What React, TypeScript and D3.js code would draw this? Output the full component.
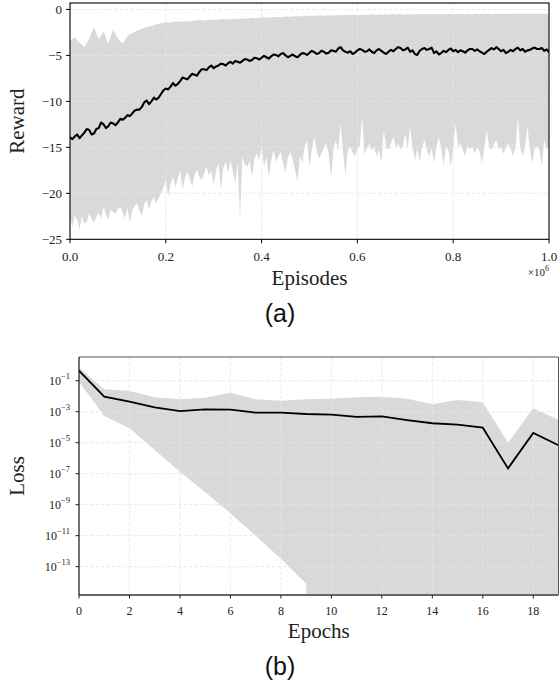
import React from 'react';
import * as d3 from 'd3';

const W = 560;
const H = 685;

// ---------- (a) Reward vs Episodes ----------
const episodeTicks = [0, 0.2, 0.4, 0.6, 0.8, 1.0];
const episodeTickLabels = ['0.0', '0.2', '0.4', '0.6', '0.8', '1.0'];
const rewardTicks = [0, -5, -10, -15, -20, -25];

// mean reward, 201 evenly spaced samples over [0, 1e6]
const rewardMean = [
  -13.9, -14.1, -13.8, -13.6, -14.0, -13.7, -13.4, -13.0, -13.1, -13.6,
  -13.5, -13.0, -12.9, -12.3, -12.5, -12.9, -12.7, -12.3, -12.4, -12.6,
  -12.3, -11.9, -12.0, -11.8, -11.5, -11.6, -11.3, -11.0, -10.9, -10.9,
  -10.6, -10.1, -9.9, -10.3, -10.0, -9.6, -9.8, -9.6, -9.2, -8.8,
  -8.6, -8.7, -8.4, -8.0, -8.3, -8.1, -7.8, -7.4, -7.5, -7.6,
  -7.3, -7.0, -7.1, -7.2, -6.8, -6.5, -6.5, -6.6, -6.3, -6.1,
  -6.4, -6.2, -6.1, -5.9, -5.95, -6.1, -5.85, -5.7, -5.9, -5.6,
  -5.7, -5.8, -5.6, -5.4, -5.45, -5.6, -5.5, -5.25, -5.3, -5.45,
  -5.25, -5.05, -5.2, -5.35, -5.1, -4.9, -4.95, -5.1, -4.85, -4.75,
  -5.0, -5.2, -5.05, -4.9, -5.1, -5.2, -4.95, -4.75, -4.8, -4.95,
  -4.7, -4.5, -4.65, -4.85, -4.75, -4.5, -4.6, -4.8, -4.7, -4.45,
  -4.5, -4.6, -4.25, -4.1, -4.45, -4.6, -4.7, -4.55, -4.85, -4.7,
  -4.45, -4.3, -4.4, -4.6, -4.55, -4.35, -4.6, -4.75, -4.45, -4.3,
  -4.5, -4.7, -4.85, -4.6, -4.4, -4.55, -4.3, -4.1, -4.2, -4.45,
  -4.35, -4.15, -4.6, -4.45, -4.85, -4.95, -4.5, -4.3, -4.2, -4.4,
  -4.3, -4.15, -4.75, -4.55, -4.9, -4.75, -4.5, -4.65, -4.4, -4.25,
  -4.55, -4.4, -4.65, -4.45, -4.55, -4.7, -4.45, -4.3, -4.3, -4.5,
  -4.35, -4.55, -4.7, -4.85, -4.6, -4.4, -4.2, -4.35, -4.1, -4.3,
  -4.55, -4.4, -4.75, -4.6, -4.4, -4.55, -4.3, -4.15, -4.45, -4.3,
  -4.6, -4.45, -4.4, -4.25, -4.15, -4.3, -4.3, -4.2, -4.5, -4.35,
  -4.65,
];

// upper edge of band, 101 samples
const rewardUpper = [
  -3.4, -3.05, -3.6, -4.1, -3.2, -1.9, -3.3, -2.4, -3.7, -2.2,
  -3.2, -3.7, -2.9, -2.6, -2.3, -2.1, -1.9, -1.8, -1.6, -1.5,
  -1.4, -1.45, -1.3, -1.35, -1.25, -1.3, -1.2, -1.15, -1.2, -1.1,
  -1.15, -1.1, -1.05, -1.1, -1.0, -1.05, -0.95, -1.0, -0.9, -0.95,
  -0.87, -0.9, -0.85, -0.82, -0.85, -0.78, -0.8, -0.73, -0.76, -0.7,
  -0.72, -0.68, -0.66, -0.7, -0.62, -0.65, -0.6, -0.63, -0.6, -0.58,
  -0.62, -0.57, -0.6, -0.56, -0.58, -0.55, -0.57, -0.53, -0.56, -0.52,
  -0.55, -0.51, -0.54, -0.5, -0.53, -0.5, -0.52, -0.49, -0.52, -0.5,
  -0.51, -0.48, -0.5, -0.49, -0.51, -0.48, -0.5, -0.47, -0.5, -0.48,
  -0.49, -0.47, -0.49, -0.46, -0.48, -0.47, -0.48, -0.46, -0.47, -0.46,
  -0.47,
];

// lower edge of band, 201 samples
const rewardLower = [
  -22.7, -23.6, -22.4, -22.9, -23.9, -22.5, -23.3, -23.1, -22.2, -22.8,
  -23.2, -22.5, -22.2, -22.7, -21.5, -22.3, -22.9, -21.8, -22.0, -22.2,
  -21.7, -21.5, -22.1, -22.7, -21.6, -23.2, -21.8, -21.4, -21.1, -21.9,
  -22.5, -21.2, -20.7, -21.8, -20.9, -20.4, -21.1, -20.5, -20.0, -19.3,
  -18.55, -20.4, -18.9, -18.2, -19.3, -18.4, -17.47, -19.6, -18.3, -17.65,
  -18.4, -19.3, -18.0, -17.47, -18.2, -18.55, -17.8, -17.1, -18.0, -17.6,
  -19.1, -17.5, -16.7, -19.6, -17.2, -16.56, -17.8, -16.4, -17.6, -18.9,
  -16.7, -22.7, -16.0, -16.9, -17.1, -16.5, -18.2, -16.2, -15.7, -16.4,
  -14.9, -17.1, -16.0, -18.2, -16.4, -15.3, -16.6, -16.0, -15.5, -16.8,
  -17.8, -16.1, -15.5, -16.4, -17.5, -18.7, -15.9, -16.7, -15.0, -14.2,
  -17.1, -15.2, -13.85, -15.4, -16.2, -15.7, -15.0, -14.6, -15.6, -18.4,
  -15.1, -14.2, -15.4, -12.4, -15.5, -18.0, -15.3, -14.9, -15.6, -16.0,
  -15.2, -14.8, -11.7, -15.8, -15.0, -14.6, -15.3, -15.0, -16.0, -15.2,
  -16.7, -13.1, -14.9, -15.3, -14.6, -13.85, -15.0, -14.6, -15.2, -14.8,
  -13.5, -15.1, -12.7, -15.0, -16.4, -15.2, -16.6, -15.0, -14.2, -15.3,
  -16.0, -15.1, -16.7, -15.0, -13.85, -15.2, -16.9, -15.0, -15.3, -17.1,
  -15.1, -12.4, -15.0, -14.6, -15.3, -16.0, -14.8, -15.2, -14.9, -15.7,
  -15.0, -15.4, -16.7, -15.1, -13.1, -15.0, -15.3, -14.7, -14.2, -15.2,
  -14.9, -15.7, -15.0, -14.6, -15.2, -16.0, -15.0, -11.7, -15.1, -16.0,
  -15.0, -12.7, -15.1, -16.7, -15.2, -14.9, -15.3, -17.1, -14.2, -15.2,
  -14.9,
];

// ---------- (b) Loss vs Epochs ----------
const epochs = [0, 1, 2, 3, 4, 5, 6, 7, 8, 9, 10, 11, 12, 13, 14, 15, 16, 17, 18, 19];
const epochTicks = [0, 2, 4, 6, 8, 10, 12, 14, 16, 18];
const lossTickExps = [-1, -3, -5, -7, -9, -11, -13];
const lossMean = [
  0.44, 9.3e-3, 4.5e-3, 1.9e-3, 1.1e-3, 1.4e-3, 1.35e-3, 8.7e-4, 8.7e-4, 7.1e-4,
  6.5e-4, 4.6e-4, 5.0e-4, 2.9e-4, 1.8e-4, 1.45e-4, 9.3e-5, 2.2e-7, 4.3e-5, 6.8e-6,
];
const lossUpper = [
  0.72, 2.8e-2, 2.2e-2, 8.5e-3, 6.3e-3, 7.9e-3, 1.7e-2, 6.3e-3, 5.1e-3, 6.3e-3,
  6.9e-3, 8.5e-3, 9.3e-3, 6.9e-3, 3.0e-3, 5.6e-3, 4.0e-3, 1.0e-5, 1.7e-3, 2.9e-4,
];
// mean - std; non-positive values fall off the log axis
const lossLower = [
  8.7e-2, 5.2e-4, 8.5e-5, 3.4e-6, 1.35e-7, 6.3e-9, 2.8e-10, 1.0e-11, 3.2e-13, 7.9e-15,
  0, 0, 0, 0, 0, 0, 0, 0, 0, 0,
];

const SERIF = '"Liberation Serif", "Times New Roman", serif';
const SANS = '"Liberation Sans", Arial, sans-serif';
const BAND = '#d9d9d9';
const GRID = '#e6e6e6';

function TopChart() {
  const L = 70, R = 549, T = 3, B = 239.3;
  const x = d3.scaleLinear().domain([0, 1]).range([L, R]);
  const y = d3.scaleLinear().domain([-25, 0.7]).range([B, T]);
  const up = rewardUpper.map((v, j) => [j / (rewardUpper.length - 1), v] as [number, number]);
  const lo = rewardLower.map((v, i) => [i / (rewardLower.length - 1), v] as [number, number]);
  const poly = up.concat(lo.slice().reverse());
  const polyPath = d3.line<[number, number]>().x(d => x(d[0])).y(d => y(d[1]))(poly) + 'Z';
  const meanPath = d3.line<number>()
    .x((_, i) => x(i / (rewardMean.length - 1)))
    .y(d => y(d))(rewardMean) as string;
  return (
    <g>
      <defs>
        <clipPath id="clipA"><rect x={L} y={T} width={R - L} height={B - T} /></clipPath>
      </defs>
      <g clipPath="url(#clipA)">
        <path d={polyPath} fill={BAND} stroke="none" />
        {episodeTicks.map(t => (
          <line key={'gx' + t} x1={x(t)} x2={x(t)} y1={T} y2={B} stroke={GRID} strokeWidth={0.9} strokeDasharray="3.5,2" />
        ))}
        {rewardTicks.map(t => (
          <line key={'gy' + t} x1={L} x2={R} y1={y(t)} y2={y(t)} stroke={GRID} strokeWidth={0.9} strokeDasharray="3.5,2" />
        ))}
        <path d={meanPath} fill="none" stroke="#000" strokeWidth={2.1} strokeLinejoin="round" />
      </g>
      <rect x={L} y={T} width={R - L} height={B - T} fill="none" stroke="#000" strokeWidth={1.1} />
      {episodeTicks.map((t, i) => (
        <g key={'tx' + t}>
          <line x1={x(t)} x2={x(t)} y1={B} y2={B + 4} stroke="#000" strokeWidth={1} />
          <text x={x(t)} y={260.5} textAnchor="middle" fontFamily={SERIF} fontSize={13} fill="#222">{episodeTickLabels[i]}</text>
        </g>
      ))}
      {rewardTicks.map(t => (
        <g key={'ty' + t}>
          <line x1={L - 4} x2={L} y1={y(t)} y2={y(t)} stroke="#000" strokeWidth={1} />
          <text x={62} y={y(t) + 4.5} textAnchor="end" fontFamily={SERIF} fontSize={13} fill="#222">{t < 0 ? '\u2212' + Math.abs(t) : String(t)}</text>
        </g>
      ))}
      <text x={(L + R) / 2} y={284.5} textAnchor="middle" fontFamily={SERIF} fontSize={21} fill="#222">Episodes</text>
      <text x={549} y={276} textAnchor="end" fontFamily={SERIF} fontSize={11} fill="#222">
        <tspan>{'\u00d710'}</tspan>
        <tspan dy={-5} fontSize={8}>6</tspan>
      </text>
      <text transform={`translate(24, ${(T + B) / 2}) rotate(-90)`} textAnchor="middle" fontFamily={SERIF} fontSize={21} fill="#222">Reward</text>
      <text x={280} y={322} textAnchor="middle" fontFamily={SANS} fontSize={25} fill="#111">(a)</text>
    </g>
  );
}

function BottomChart() {
  const L = 79, R = 558.5, T = 357, B = 595;
  const x = d3.scaleLinear().domain([0, 19]).range([L, R]);
  const y = d3.scaleLog().domain([Math.pow(10, -14.83), Math.pow(10, 0.53)]).range([B, T]);
  const floor = 1e-300;
  const area = d3.area<number>()
    .x((_, i) => x(epochs[i]))
    .y0((_, i) => y(Math.max(lossLower[i], floor)))
    .y1((_, i) => y(lossUpper[i]));
  const meanPath = d3.line<number>().x((_, i) => x(epochs[i])).y(d => y(d))(lossMean) as string;
  return (
    <g>
      <defs>
        <clipPath id="clipB"><rect x={L} y={T} width={R - L} height={B - T} /></clipPath>
      </defs>
      <g clipPath="url(#clipB)">
        <path d={area(lossMean) as string} fill={BAND} stroke="none" />
        {epochTicks.map(t => (
          <line key={'gx' + t} x1={x(t)} x2={x(t)} y1={T} y2={B} stroke={GRID} strokeWidth={0.9} strokeDasharray="3.5,2" />
        ))}
        {lossTickExps.map(e => (
          <line key={'gy' + e} x1={L} x2={R} y1={y(Math.pow(10, e))} y2={y(Math.pow(10, e))} stroke={GRID} strokeWidth={0.9} strokeDasharray="3.5,2" />
        ))}
        <path d={meanPath} fill="none" stroke="#000" strokeWidth={1.8} strokeLinejoin="miter" />
      </g>
      <line x1={L} x2={R} y1={T} y2={T} stroke="#555" strokeWidth={1} />
      <line x1={R} x2={R} y1={T} y2={B} stroke="#555" strokeWidth={1} />
      <line x1={L} x2={R} y1={B} y2={B} stroke="#666" strokeWidth={1.8} />
      <line x1={L} x2={L} y1={T} y2={B} stroke="#000" strokeWidth={1.1} />
      {epochTicks.map(t => (
        <g key={'tx' + t}>
          <line x1={x(t)} x2={x(t)} y1={B} y2={B + 3.5} stroke="#222" strokeWidth={1} />
          <text x={x(t)} y={614.5} textAnchor="middle" fontFamily={SERIF} fontSize={12} fill="#222">{t}</text>
        </g>
      ))}
      {lossTickExps.map(e => (
        <g key={'ty' + e}>
          <line x1={L - 3.5} x2={L} y1={y(Math.pow(10, e))} y2={y(Math.pow(10, e))} stroke="#222" strokeWidth={1} />
          <text x={70} y={y(Math.pow(10, e)) + 4} textAnchor="end" fontFamily={SERIF} fontSize={12} fill="#222">
            <tspan>10</tspan>
            <tspan dy={-5.5} fontSize={8.5}>{'\u2212' + Math.abs(e)}</tspan>
          </text>
        </g>
      ))}
      <text x={(L + R) / 2} y={638} textAnchor="middle" fontFamily={SERIF} fontSize={21} fill="#222">Epochs</text>
      <text transform={`translate(24, ${(T + B) / 2}) rotate(-90)`} textAnchor="middle" fontFamily={SERIF} fontSize={21} fill="#222">Loss</text>
      <text x={280} y={675} textAnchor="middle" fontFamily={SANS} fontSize={25} fill="#111">(b)</text>
    </g>
  );
}

export default function App() {
  return (
    <svg width={W} height={H} viewBox={`0 0 ${W} ${H}`} style={{ position: 'absolute', left: 0, top: 0, background: '#fff' }}>
      <rect x={0} y={0} width={W} height={H} fill="#fff" />
      <TopChart />
      <BottomChart />
    </svg>
  );
}
